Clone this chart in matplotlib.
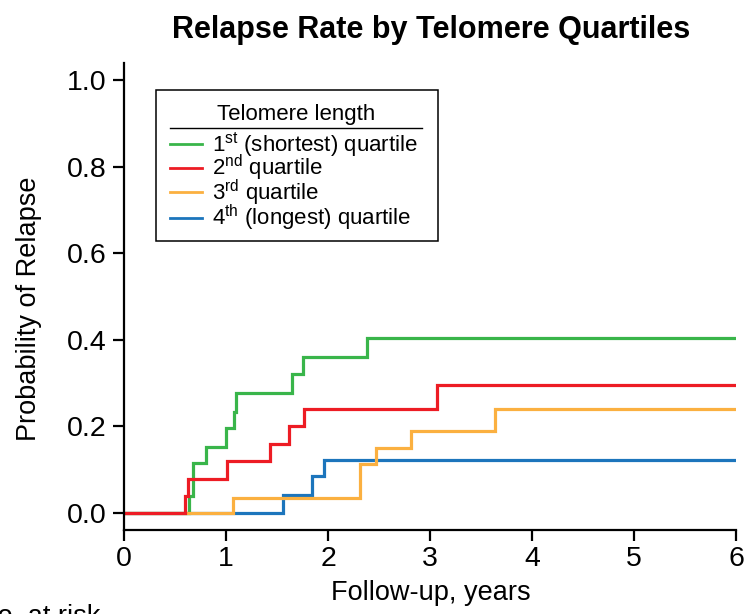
import matplotlib
matplotlib.use("Agg")
import matplotlib.pyplot as plt
from matplotlib.lines import Line2D
from matplotlib.patches import Rectangle

plt.rcParams['font.family'] = ['Liberation Sans', 'DejaVu Sans']
plt.rcParams['mathtext.fontset'] = 'custom'
plt.rcParams['mathtext.rm'] = 'Liberation Sans'
plt.rcParams['mathtext.it'] = 'Liberation Sans:italic'
plt.rcParams['mathtext.bf'] = 'Liberation Sans:bold'

# ---- data ----
q1_time = [0, 0.64, 0.68, 0.80, 1.00, 1.08, 1.095, 1.65, 1.75, 2.385, 6]
q1_prob = [0, 0.040, 0.115, 0.153, 0.196, 0.234, 0.277, 0.320, 0.361, 0.405, 0.405]

q2_time = [0, 0.60, 0.627, 1.01, 1.43, 1.62, 1.76, 3.065, 6]
q2_prob = [0, 0.040, 0.079, 0.120, 0.160, 0.200, 0.241, 0.295, 0.295]

q3_time = [0, 1.065, 2.31, 2.47, 2.81, 3.64, 6]
q3_prob = [0, 0.035, 0.113, 0.150, 0.190, 0.241, 0.241]

q4_time = [0, 1.56, 1.84, 1.96, 6]
q4_prob = [0, 0.042, 0.085, 0.122, 0.122]

labels = ["1$^{\\mathrm{st}}$ (shortest) quartile",
          "2$^{\\mathrm{nd}}$ quartile",
          "3$^{\\mathrm{rd}}$ quartile",
          "4$^{\\mathrm{th}}$ (longest) quartile"]
colors = ["#39B54A", "#ED1C24", "#FBB040", "#1C75BC"]
x_ticks = [0, 1, 2, 3, 4, 5, 6]
y_ticks = [0.0, 0.2, 0.4, 0.6, 0.8, 1.0]

W, H = 746, 614
fig = plt.figure(figsize=(W / 100, H / 100), dpi=100)

def fx(px):
    return px / W

def fy(py):
    return 1 - py / H

ax = fig.add_axes([fx(124), fy(530), (736 - 124) / W, (530 - 63) / H])

series = [(q4_time, q4_prob, colors[3]),
          (q1_time, q1_prob, colors[0]),
          (q3_time, q3_prob, colors[2]),
          (q2_time, q2_prob, colors[1])]
for t, p, c in series:
    ax.step(t, p, where='post', color=c, lw=2.3, solid_joinstyle='miter')

ax.set_xlim(0, 6)
ax.set_ylim(-0.0393, 1.039)
ax.set_xticks(x_ticks)
ax.set_xticklabels([str(v) for v in x_ticks])
ax.set_yticks(y_ticks)
ax.set_yticklabels([f"{v:.1f}" for v in y_ticks])
for s in ['top', 'right']:
    ax.spines[s].set_visible(False)
for s in ['left', 'bottom']:
    ax.spines[s].set_linewidth(1.6)
ax.tick_params(axis='both', direction='out', length=7.7, width=1.6, labelsize=20.5)
ax.tick_params(axis='x', pad=4.0)
ax.tick_params(axis='y', pad=5)

ax.set_xlabel("Follow-up, years", fontsize=19.5)
ax.xaxis.set_label_coords(0.501, -0.107)
ax.set_ylabel("Probability of Relapse", fontsize=19.5)
ax.yaxis.set_label_coords(-0.134, 0.473)

fig.text(fx(431), fy(38), "Relapse Rate by Telomere Quartiles",
         fontsize=22, fontweight='bold', ha='center', va='baseline')

# ---- legend drawn in figure pixel positions ----
fig.add_artist(Rectangle((fx(156), fy(241)), (438 - 156) / W, (241 - 90) / H,
                         transform=fig.transFigure, fill=False,
                         edgecolor='black', lw=1.1))
fig.text(fx(296.5), fy(120), "Telomere length", fontsize=16,
         ha='center', va='baseline')
fig.add_artist(Line2D([fx(170), fx(422)], [fy(128), fy(128)],
                      transform=fig.transFigure, color='black', lw=1.0))
row_y = [144.3, 167.7, 192.3, 217.7]
for lab, c, ry in zip(labels, colors, row_y):
    fig.add_artist(Line2D([fx(170), fx(202)], [fy(ry), fy(ry)],
                          transform=fig.transFigure, color=c, lw=2.0))
    fig.text(fx(212), fy(ry + 7.5), lab, fontsize=16, ha='left', va='baseline')

fig.text(fx(-22), fy(624), "No. at risk", fontsize=19.5, ha='left', va='baseline')

fig.savefig("out.png", dpi=100)
